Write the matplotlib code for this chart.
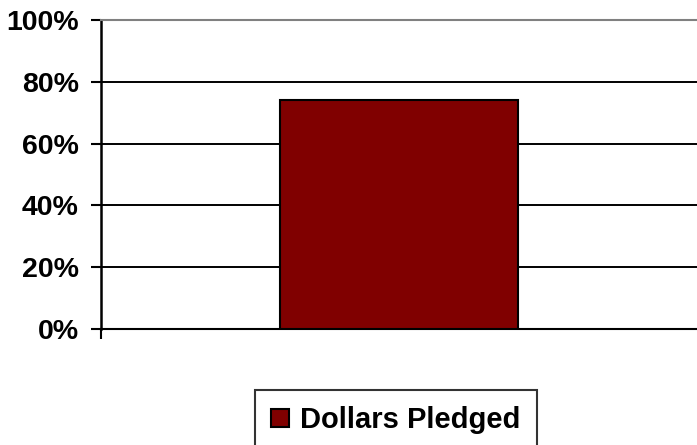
import matplotlib.pyplot as plt
import numpy as np
from matplotlib.ticker import PercentFormatter

categories = ['']
values = [0.74]
series_name = 'Dollars Pledged'
yticks = [0, 0.2, 0.4, 0.6, 0.8, 1.0]

plt.rcParams['font.family'] = ['Liberation Sans', 'DejaVu Sans']
plt.rcParams['font.weight'] = 'bold'

fig = plt.figure(figsize=(6.97, 4.45), dpi=100)
ax = fig.add_axes([101 / 697, 1 - 329 / 445, 596 / 697, 309 / 445])

x = np.arange(len(categories))
ax.bar(x, values, width=0.8, color='#800000', edgecolor='black',
       linewidth=1.5, zorder=3, label=series_name)

ax.set_xlim(-1, 1)
ax.set_ylim(0, 1)
ax.set_yticks(yticks)
ax.yaxis.set_major_formatter(PercentFormatter(1.0, decimals=0))
ax.set_xticks([-1])
ax.set_xticklabels([''])
ax.tick_params(axis='y', labelsize=20.5, length=7, width=1.5, pad=9, direction='out')
ax.tick_params(axis='x', length=7, width=1.5, direction='out')
for lbl in ax.get_yticklabels():
    lbl.set_fontweight('bold')

ax.grid(axis='y', color='black', linewidth=1.4, zorder=0)
ax.get_ygridlines()[-1].set_visible(False)
ax.spines['right'].set_visible(False)
ax.spines['top'].set_color('#808080')
ax.spines['top'].set_linewidth(1.5)
ax.spines['left'].set_linewidth(1.8)
ax.spines['bottom'].set_linewidth(1.5)

leg = fig.legend(loc='upper center', bbox_to_anchor=(396 / 697, 1 - 390 / 445),
                 fontsize=21, frameon=True, fancybox=False, borderaxespad=0,
                 borderpad=0.55, handlelength=0.6, handleheight=0.6,
                 handletextpad=0.4)
leg.get_frame().set_edgecolor('black')
leg.get_frame().set_linewidth(1.5)
for t in leg.get_texts():
    t.set_fontweight('bold')

plt.savefig('out.png', dpi=100)
